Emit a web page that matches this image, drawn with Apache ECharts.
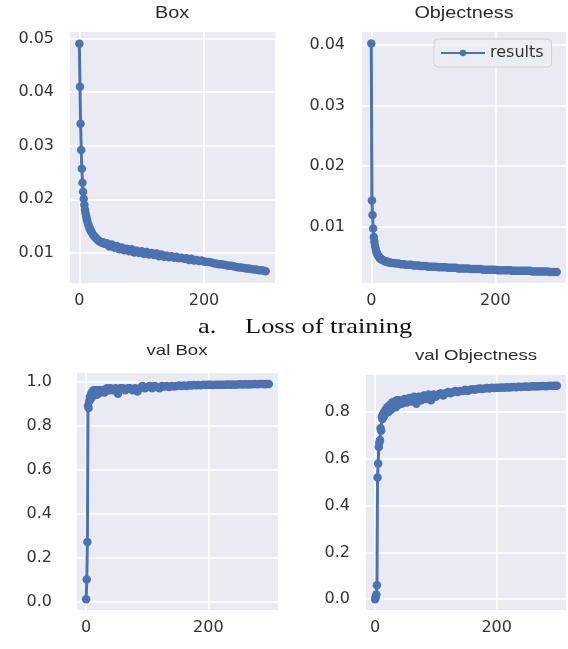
<!DOCTYPE html>
<html>
<head>
<meta charset="utf-8">
<script src="https://cdn.jsdelivr.net/npm/echarts@6/dist/echarts.min.js"></script>
<style>
html,body{margin:0;padding:0;background:#fff;}
#chart{width:568px;height:649px;}
</style>
</head>
<body>
<div id="chart"></div>
<script>
// ---------- data ----------
const titles = ['Box', 'Objectness', 'val Box', 'val Objectness'];
const caption = ['a.', 'Loss of training'];
const legendName = 'results';
const xTicks = [0, 200];
const boxTicks = [0.01, 0.02, 0.03, 0.04, 0.05];
const objTicks = [0.01, 0.02, 0.03, 0.04];
const valBoxTicks = [0.0, 0.2, 0.4, 0.6, 0.8, 1.0];
const valObjTicks = [0.0, 0.2, 0.4, 0.6, 0.8];

const boxEpochs = [0,1,2,3,4,5,6,7,8,9,10,11,12,13,14,15,16,17,18,19,20,22,24,26,28,30,32,34,36,38,40,
  44,48,52,56,60,64,68,72,76,80,84,88,92,96,100,104,108,112,116,120,124,128,132,136,140,144,148,152,156,160,
  164,168,172,176,180,184,188,192,196,200,204,208,212,216,220,224,228,232,236,240,244,248,252,256,260,264,268,
  272,276,280,284,288,292,296,299];
const boxLoss = [0.0490,0.0410,0.0341,0.0292,0.0257,0.0231,0.0214,0.0201,0.0190,0.0181,0.0174,0.0168,0.0163,0.0158,0.0154,0.0151,0.0147,0.0145,0.0142,0.0140,0.0138,0.0134,0.0131,0.0129,0.0126,0.0124,0.0122,0.0121,0.0119,0.0120,0.0117,
  0.0118,0.0112,0.0116,0.0110,0.0113,0.0107,0.0110,0.0105,0.0108,0.0103,0.0107,0.0101,0.0104,0.0100,0.0103,0.0098,0.0102,0.0097,0.0100,0.0096,0.0099,0.0094,0.0097,0.0093,0.0095,0.0092,0.0094,0.0091,0.0093,0.0090,
  0.0091,0.0089,0.0090,0.0087,0.0089,0.0086,0.0087,0.0085,0.0086,0.0084,0.0083,0.0083,0.0082,0.0081,0.0080,0.0079,0.0079,0.0078,0.0077,0.0076,0.0076,0.0075,0.0074,0.0073,0.0073,0.0072,0.0071,
  0.0071,0.0070,0.0069,0.0069,0.0068,0.0068,0.0067,0.0066];

const objEpochs = [0,1,2,3,4,5,6,7,8,9,10,11,12,13,14,15,16,18,20,22,24,26,28,30,33,36,40,
  44,48,52,56,60,64,68,72,76,80,84,88,92,96,100,104,108,112,116,120,124,128,132,136,140,144,148,152,156,160,
  164,168,172,176,180,184,188,192,196,200,204,208,212,216,220,224,228,232,236,240,244,248,252,256,260,264,268,
  272,276,280,284,288,292,296,299];
const objLoss = [0.0402,0.0143,0.0119,0.0097,0.0083,0.0075,0.0068,0.0063,0.0059,0.0056,0.0054,0.0052,0.0051,0.0049,0.0048,0.0047,0.0046,0.0045,0.0044,0.0043,0.0042,0.0042,0.0041,0.0041,0.0040,0.0040,0.0039,
  0.0039,0.0038,0.0038,0.0037,0.0037,0.0037,0.0036,0.0036,0.0036,0.0035,0.0035,0.0035,0.0034,0.0034,0.0034,0.0034,0.0033,0.0033,0.0033,0.0033,0.0032,0.0032,0.0032,0.0032,0.0031,0.0031,0.0031,0.0031,0.0031,0.0030,
  0.0030,0.0030,0.0030,0.0030,0.0029,0.0029,0.0029,0.0029,0.0029,0.0029,0.0028,0.0028,0.0028,0.0028,0.0028,0.0028,0.0027,0.0027,0.0027,0.0027,0.0027,0.0027,0.0027,0.0027,0.0026,0.0026,0.0026,
  0.0026,0.0026,0.0026,0.0026,0.0025,0.0025,0.0025,0.0025];

const valBoxEpochs = [0,1,2,3,4,5,6,7,8,9,10,11,12,13,14,15,16,17,18,19,20,22,24,26,28,30,32,34,36,38,40,
  44,48,52,56,60,64,68,72,76,80,84,88,92,96,100,104,108,112,116,120,124,128,132,136,140,144,148,152,156,160,
  164,168,172,176,180,184,188,192,196,200,204,208,212,216,220,224,228,232,236,240,244,248,252,256,260,264,268,
  272,276,280,284,288,292,296,299];
const valBox = [0.01,0.10,0.27,0.89,0.88,0.91,0.93,0.92,0.94,0.95,0.93,0.95,0.96,0.94,0.95,0.96,0.95,0.96,0.94,0.96,0.95,0.96,0.95,0.96,0.96,0.95,0.96,0.97,0.96,0.96,0.97,
  0.96,0.97,0.945,0.97,0.97,0.96,0.97,0.97,0.96,0.97,0.955,0.97,0.98,0.97,0.975,0.98,0.97,0.98,0.975,0.97,0.98,0.978,0.98,0.975,0.98,0.978,0.98,0.982,0.98,0.982,
  0.98,0.983,0.982,0.984,0.983,0.984,0.983,0.985,0.984,0.985,0.985,0.984,0.986,0.985,0.986,0.985,0.986,0.987,0.986,0.987,0.986,0.987,0.988,0.987,0.988,0.987,0.988,
  0.988,0.989,0.988,0.989,0.989,0.988,0.989,0.989];

const valObjEpochs = [0,1,2,3,4,5,6,7,8,9,10,11,12,13,14,15,16,17,18,19,20,22,24,26,28,30,32,34,36,38,40,
  44,48,52,56,60,64,68,72,76,80,84,88,92,96,100,104,108,112,116,120,124,128,132,136,140,144,148,152,156,160,
  164,168,172,176,180,184,188,192,196,200,204,208,212,216,220,224,228,232,236,240,244,248,252,256,260,264,268,
  272,276,280,284,288,292,296,299];
const valObj = [0.00,0.01,0.02,0.06,0.52,0.58,0.65,0.67,0.68,0.73,0.72,0.78,0.77,0.79,0.78,0.80,0.79,0.81,0.80,0.81,0.82,0.80,0.83,0.81,0.84,0.82,0.845,0.82,0.85,0.83,0.85,
  0.835,0.855,0.84,0.86,0.845,0.865,0.835,0.865,0.85,0.87,0.855,0.875,0.85,0.875,0.865,0.875,0.88,0.87,0.88,0.885,0.88,0.885,0.89,0.885,0.89,0.89,0.895,0.89,0.895,0.897,
  0.895,0.898,0.9,0.898,0.9,0.902,0.9,0.903,0.902,0.904,0.903,0.905,0.904,0.906,0.905,0.906,0.907,0.906,0.908,0.907,0.908,0.909,0.908,0.909,0.91,0.909,0.91,
  0.91,0.911,0.91,0.911,0.912,0.911,0.912,0.912];

// ---------- chart ----------
const BLUE = '#4C72B0';
const FONT = '"DejaVu Sans", sans-serif';
const TFONT = '"Liberation Sans", Arial, sans-serif';
const SFONT = '"Liberation Serif", "Times New Roman", serif';
const grids = [
  {left: 70, top: 32, width: 205, height: 251},
  {left: 362, top: 32, width: 204, height: 251},
  {left: 77, top: 373, width: 201, height: 237},
  {left: 366, top: 375, width: 200, height: 235}
];
const yMargins = [16, 17, 25, 16];
const yRanges = [[0.0044, 0.0512], [0.0007, 0.0421], [-0.039, 1.039], [-0.046, 0.958]];
const yTickSets = [boxTicks, objTicks, valBoxTicks, valObjTicks];
const yDigits = [2, 2, 1, 1];
const seriesData = [
  [boxEpochs, boxLoss], [objEpochs, objLoss], [valBoxEpochs, valBox], [valObjEpochs, valObj]
];

const chart = echarts.init(document.getElementById('chart'), null, {renderer: 'canvas'});

function titleText(x, y, text, size) {
  return {type: 'text', x: x, y: y, scaleX: 1.24,
    style: {text: text, font: size + 'px ' + TFONT, fill: '#2b2b2b', align: 'center', verticalAlign: 'middle'}};
}

const option = {
  animation: false,
  backgroundColor: '#ffffff',
  grid: grids.map(g => Object.assign({show: true, backgroundColor: '#EAEAF2', borderWidth: 0, containLabel: false}, g)),
  xAxis: grids.map((g, i) => ({
    type: 'value', gridIndex: i, min: -15, max: 314,
    axisLine: {show: false},
    axisTick: {show: false, customValues: xTicks},
    axisLabel: {customValues: xTicks, fontSize: 16, fontFamily: FONT, color: '#333', margin: 10},
    splitLine: {show: true, lineStyle: {color: '#ffffff', width: 1.5}}
  })),
  yAxis: grids.map((g, i) => ({
    type: 'value', gridIndex: i, min: yRanges[i][0], max: yRanges[i][1],
    axisLine: {show: false},
    axisTick: {show: false, customValues: yTickSets[i]},
    axisLabel: {customValues: yTickSets[i], fontSize: 16, fontFamily: FONT, color: '#333', margin: yMargins[i],
      formatter: v => v.toFixed(yDigits[i])},
    splitLine: {show: true, lineStyle: {color: '#ffffff', width: 1.5}}
  })),
  legend: {
    data: [legendName],
    left: 434, top: 39,
    padding: [6, 8, 6, 6],
    itemWidth: 44, itemHeight: 8,
    backgroundColor: 'rgba(236,236,244,0.9)',
    borderColor: '#cfcfd6', borderWidth: 1, borderRadius: 4,
    textStyle: {fontSize: 16, fontFamily: FONT, color: '#333'}
  },
  graphic: [
    titleText(172, 14, titles[0], 16),
    titleText(464, 14, titles[1], 16),
    titleText(177, 351, titles[2], 15),
    titleText(476, 356, titles[3], 15),
    {type: 'text', x: 198, y: 327, scaleX: 1.2, style: {text: caption[0], font: '22px ' + SFONT, fill: '#111', align: 'left', verticalAlign: 'middle'}},
    {type: 'text', x: 245, y: 327, scaleX: 1.2, style: {text: caption[1], font: '22px ' + SFONT, fill: '#111', align: 'left', verticalAlign: 'middle'}}
  ],
  series: seriesData.map((sd, i) => ({
    name: legendName,
    type: 'line',
    xAxisIndex: i, yAxisIndex: i,
    data: sd[0].map((e, k) => [e, sd[1][k]]),
    symbol: 'circle', symbolSize: 8.5, showSymbol: true,
    itemStyle: {color: BLUE},
    lineStyle: {color: BLUE, width: 3},
    emphasis: {disabled: true}
  }))
};
chart.setOption(option);
</script>
</body>
</html>
